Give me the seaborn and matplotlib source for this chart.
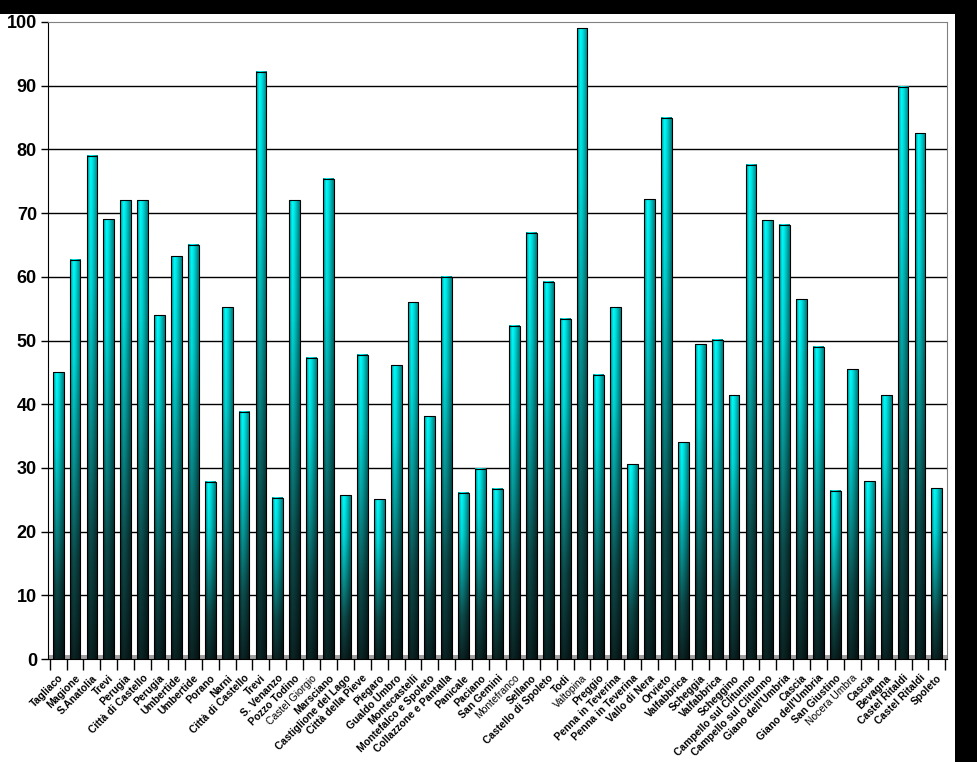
import numpy as np
import pandas as pd
import matplotlib
matplotlib.use("Agg")
import matplotlib.pyplot as plt
from matplotlib.patches import Rectangle
from matplotlib.colors import LinearSegmentedColormap
import seaborn as sns

categories = [
    "Tagliaco", "Magione", "S.Anatolia", "Trevi", "Perugia", "Città di Castello",
    "Perugia", "Umbertide", "Umbertide", "Porano", "Narni", "Città di Castello",
    "Trevi", "S. Venanzo", "Pozzo Todino", "Castel Giorgio", "Marsciano",
    "Castiglione del Lago", "Città della Pieve", "Piegaro", "Gualdo Umbro",
    "Montecastelli", "Montefalco e Spoleto", "Collazzone e Pantalla", "Panicale",
    "Paciano", "San Gemini", "Montefranco", "Sellano", "Castello di Spoleto",
    "Todi", "Valtopina", "Preggio", "Penna in Teverina", "Penna in Teverina",
    "Vallo di Nera", "Orvieto", "Valfabbrica", "Scheggia", "Valfabbrica",
    "Scheggino", "Campello sul Clitunno", "Campello sul Clitunno",
    "Giano dell'Umbria", "Cascia", "Giano dell'Umbria", "San Giustino",
    "Nocera Umbra", "Cascia", "Bevagna", "Castel Ritaldi", "Castel Ritaldi",
    "Spoleto",
]
values = [
    45.0, 62.7, 79.0, 69.0, 72.0, 72.0, 54.0, 63.2, 65.0, 27.8, 55.2, 38.8,
    92.2, 25.3, 72.0, 47.3, 75.4, 25.7, 47.8, 25.1, 46.1, 56.0, 38.1, 60.0,
    26.1, 29.9, 26.7, 52.3, 66.9, 59.2, 53.4, 99.0, 44.6, 55.2, 30.6, 72.2,
    85.0, 34.0, 49.4, 50.1, 41.4, 77.6, 68.9, 68.2, 56.5, 49.0, 26.4, 45.5,
    27.9, 41.4, 89.8, 82.5, 26.8,
]
thin_labels = {"Castel Giorgio", "Montefranco", "Valtopina", "Nocera Umbra"}
y_ticks = list(range(0, 101, 10))

df = pd.DataFrame({"pos": list(range(len(values))), "value": values})

fig = plt.figure(figsize=(9.77, 7.62), dpi=100, facecolor="white")
ax = fig.add_axes([48 / 977, 1 - 659 / 762, 899 / 977, (659 - 22) / 762])
ax.set_facecolor("white")

sns.barplot(data=df, x="pos", y="value", color="#00ffff", width=0.64,
            edgecolor="black", linewidth=0.8, ax=ax, zorder=3)

# gradient fill for each bar
cmap = LinearSegmentedColormap.from_list(
    "cy", ["#0b2424", "#0d4d4d", "#079a9a", "#00e0e0", "#00ffff"])
nv, nh = 200, 20
tv = np.linspace(0, 1, nv)[:, None]
sh = np.linspace(0, 1, nh)[None, :]
hshade = np.interp(sh, [0, 0.3, 0.5, 1.0], [0.55, 1.0, 0.9, 0.5])
for p in list(ax.patches):
    x, w, h = p.get_x(), p.get_width(), p.get_height()
    rgba = cmap(np.repeat(tv, nh, axis=1))
    rgba[..., :3] *= hshade[..., None]
    ax.imshow(rgba[::-1], extent=[x, x + w, 0, h], aspect="auto",
              zorder=3.5, interpolation="bilinear")
    p.set_facecolor("none")
    p.set_zorder(4)

ax.set_xlim(-0.6, len(values) - 0.4)
ax.set_ylim(0, 100)
ax.set_yticks(y_ticks)
ax.set_yticklabels([str(v) for v in y_ticks], fontsize=13, fontweight="bold",
                   family="Liberation Sans")
for v in y_ticks[1:-1]:
    ax.axhline(v, color="black", lw=1.0, zorder=1)

# floor band
ax.add_patch(Rectangle((-0.6, 0), len(values) + 0.2, 0.7, facecolor="#a0a0a0",
                       edgecolor="none", zorder=2))

ax.set_xticks(range(len(values)))
ax.set_xticklabels(categories, rotation=45, ha="right", rotation_mode="anchor",
                   fontsize=7.5, fontweight="bold", family="Liberation Sans")
for lab in ax.get_xticklabels():
    if lab.get_text() in thin_labels:
        lab.set_fontweight("normal")
ax.tick_params(axis="x", length=0, pad=10)
ax.set_xticks(np.arange(-0.5, len(values), 1), minor=True)
ax.tick_params(axis="x", which="minor", length=8, width=1, color="black")
ax.tick_params(axis="y", length=5, width=1, color="black", pad=3)
ax.set_xlabel("")
ax.set_ylabel("")

for s in ["top", "right"]:
    ax.spines[s].set_color("#808080")
for s in ["left", "bottom"]:
    ax.spines[s].set_color("black")

# black frame strips
fig.patches.append(Rectangle((0, 1 - 14 / 762), 1, 14 / 762, transform=fig.transFigure,
                             facecolor="black", edgecolor="none", zorder=0))
fig.patches.append(Rectangle((955 / 977, 0), 22 / 977, 1, transform=fig.transFigure,
                             facecolor="black", edgecolor="none", zorder=0))

fig.savefig("out.png", dpi=100, facecolor="white")
